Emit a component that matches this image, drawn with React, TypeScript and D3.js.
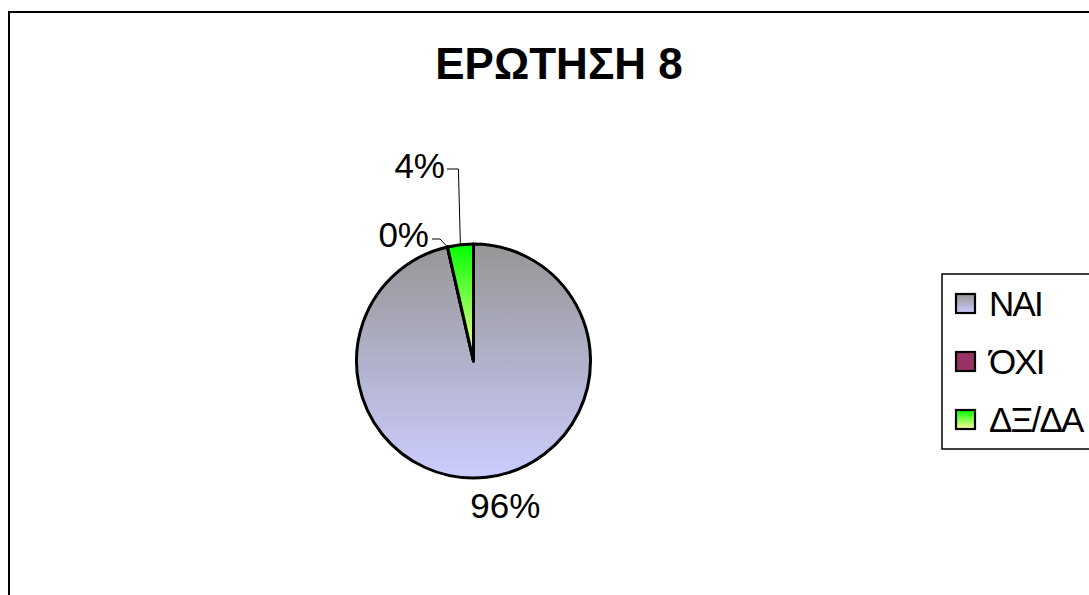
import React from "react";
import * as d3 from "d3";

const title = "ΕΡΩΤΗΣΗ 8";
const categories = ["ΝΑΙ", "ΌΧΙ", "ΔΞ/ΔΑ"];
const values = [27, 0, 1];
const percentLabels = ["96%", "0%", "4%"];

const W = 1089;
const H = 595;
const cx = 473.5;
const cy = 361;
const R = 117;
const FONT = "'Liberation Sans', Arial, sans-serif";

export default function App() {
  const pie = d3.pie<number>().sort(null).value((d) => d)(values);
  const arc = d3.arc<d3.PieArcDatum<number>>().innerRadius(0).outerRadius(R);
  const fills = ["url(#gNai)", "#993366", "url(#gDk)"];

  const edge = (a: number, r: number) => [cx + r * Math.sin(a), cy - r * Math.cos(a)];

  const naiMid = (pie[0].startAngle + pie[0].endAngle) / 2;
  const [nx, ny] = edge(naiMid, 150);
  const dkMid = (pie[2].startAngle + pie[2].endAngle) / 2;
  const [dx0, dy0] = edge(dkMid, R);
  const oxMid = pie[1].startAngle;
  const [ox0, oy0] = edge(oxMid, R);

  const legendY = d3.scalePoint<string>().domain(categories).range([304, 420]);

  return (
    <svg width={W} height={H} style={{ position: "absolute", left: 0, top: 0, background: "#fff" }}>
      <defs>
        <linearGradient id="gNai" gradientUnits="userSpaceOnUse" x1="0" y1={-R} x2="0" y2={R}>
          <stop offset="0" stopColor="#969696" />
          <stop offset="1" stopColor="#ccccff" />
        </linearGradient>
        <linearGradient id="gDk" gradientUnits="userSpaceOnUse" x1="0" y1={-R} x2="0" y2={0}>
          <stop offset="0" stopColor="#00ff00" />
          <stop offset="1" stopColor="#ffff99" />
        </linearGradient>
        <linearGradient id="lNai" x1="0" y1="0" x2="0" y2="1">
          <stop offset="0" stopColor="#969696" />
          <stop offset="1" stopColor="#ccccff" />
        </linearGradient>
        <linearGradient id="lDk" x1="0" y1="0" x2="0" y2="1">
          <stop offset="0" stopColor="#00ff00" />
          <stop offset="1" stopColor="#ffff99" />
        </linearGradient>
      </defs>
      <rect x={9} y={12} width={1200} height={700} fill="#fff" stroke="#000" strokeWidth={2} />
      <text x={559} y={79} textAnchor="middle" fontFamily={FONT} fontWeight="bold" fontSize={44} fill="#000">
        {title}
      </text>

      <g transform={`translate(${cx},${cy})`}>
        {pie.map((p, i) => (
          <path key={i} d={arc(p) || ""} fill={fills[i]} stroke="#000" strokeWidth={3} strokeLinejoin="round" />
        ))}
      </g>

      <text x={nx + 15} y={ny + 8} textAnchor="middle" fontFamily={FONT} fontSize={35} fill="#000">
        {percentLabels[0]}
      </text>
      <polyline points={`${dx0},${dy0} ${dx0 - 2},169 447,169`} fill="none" stroke="#000" strokeWidth={1} />
      <text x={445} y={178} textAnchor="end" fontFamily={FONT} fontSize={35} fill="#000">
        {percentLabels[2]}
      </text>
      <polyline points={`${ox0},${oy0} 440,239 432,239`} fill="none" stroke="#000" strokeWidth={1} />
      <text x={429} y={247} textAnchor="end" fontFamily={FONT} fontSize={35} fill="#000">
        {percentLabels[1]}
      </text>

      <rect x={942} y={274} width={200} height={175} fill="#fff" stroke="#000" strokeWidth={1.5} />
      {categories.map((c, i) => {
        const y = legendY(c) as number;
        const sw = ["url(#lNai)", "#993366", "url(#lDk)"][i];
        return (
          <g key={c}>
            <rect x={956} y={y - 10} width={19} height={19} fill={sw} stroke="#000" strokeWidth={2.2} />
            <text x={989} y={y + 12} fontFamily={FONT} fontSize={35} letterSpacing={-1.8} fill="#000">
              {c}
            </text>
          </g>
        );
      })}
    </svg>
  );
}
